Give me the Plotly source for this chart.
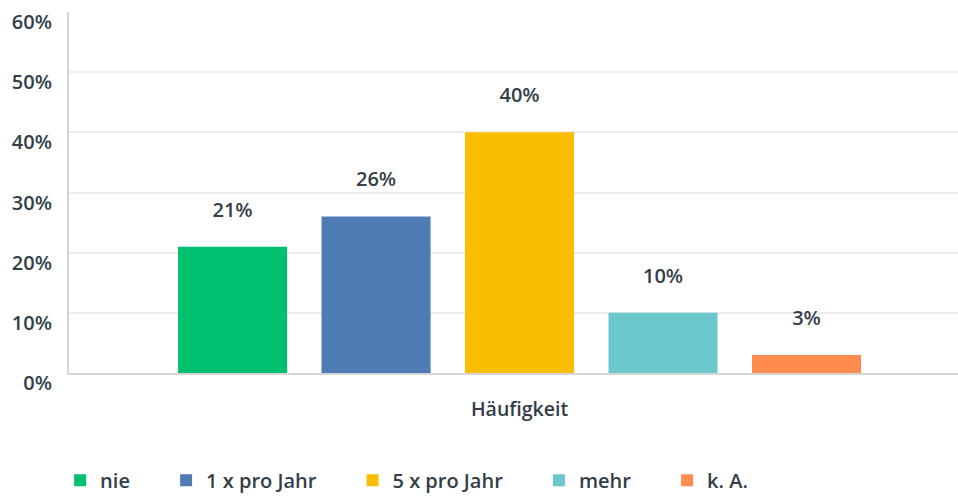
import plotly.graph_objects as go

category = ["Häufigkeit"]
series_names = ["nie", "1 x pro Jahr", "5 x pro Jahr", "mehr", "k. A."]
series_values = [21, 26, 40, 10, 3]
colors = ["#00bf6f", "#507cb6", "#f9be00", "#6bc8cd", "#ff8b4f"]
y_ticks = [0, 10, 20, 30, 40, 50, 60]
y_tick_labels = ["0%", "10%", "20%", "30%", "40%", "50%", "60%"]

FONT = "Open Sans"
TXT = "#333e48"
PAD = "\u00a0" * 6  # extra spacing between legend entries

fig = go.Figure()
for name, val, col in zip(series_names, series_values, colors):
    fig.add_trace(go.Bar(
        x=category, y=[val], name=name + PAD,
        marker=dict(color=col, line=dict(width=0)),
        text=[f"<span style='font-size:20px'>{val}%</span><br>&nbsp;"],
        textposition="outside",
        textfont=dict(family=FONT, size=17, color=TXT, weight=600),
        cliponaxis=False,
        hoverinfo="skip",
    ))

fig.update_layout(
    width=958, height=500,
    margin=dict(l=69, r=0, t=12, b=127),
    paper_bgcolor="white", plot_bgcolor="white",
    barmode="group", bargap=0.193, bargroupgap=0.24,
    font=dict(family=FONT, color=TXT),
    showlegend=True,
    legend=dict(orientation="h", x=-0.01, xanchor="left", y=-0.297, yanchor="middle",
                font=dict(family=FONT, size=20, color=TXT, weight=600),
                itemclick=False, itemdoubleclick=False),
)
fig.update_xaxes(
    type="category", range=[-0.5068, 0.4932],
    showticklabels=True, ticks="",
    tickfont=dict(family=FONT, size=19.5, color=TXT, weight=600),
    ticklabelstandoff=18,
    showline=True, linecolor="#d5d5d5", linewidth=2,
    showgrid=False, zeroline=False,
)
fig.update_yaxes(
    range=[0, 60], tickvals=y_ticks, ticktext=y_tick_labels,
    ticks="", ticklabelposition="outside bottom", ticklabelshift=-4,
    tickfont=dict(family=FONT, size=20, color=TXT, weight=600),
    ticklabelstandoff=11,
    showgrid=True, gridcolor="#ededed", gridwidth=2,
    showline=True, linecolor="#d5d5d5", linewidth=2,
    zeroline=False,
)

fig.write_html(
    "out.html",
    config={"displayModeBar": False},
    post_script="document.body.style.margin='0';document.body.style.overflow='hidden';",
)
